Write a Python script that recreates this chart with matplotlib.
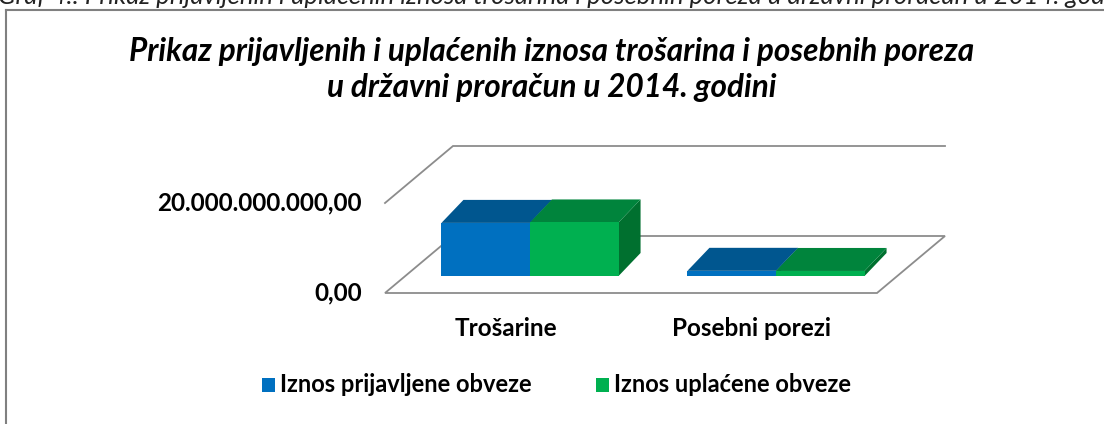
import matplotlib.pyplot as plt
from matplotlib.patches import Polygon
from matplotlib.lines import Line2D

# data
categories = ['Trošarine', 'Posebni porezi']
series_names = ['Iznos prijavljene obveze', 'Iznos uplaćene obveze']
prijavljene = [11.8e9, 1.15e9]
uplacene = [11.9e9, 1.12e9]
value_ticks = [0, 20e9]
tick_labels = ['0,00', '20.000.000.000,00']

front_colors = ['#0070C0', '#00B050']
top_colors = ['#00568F', '#00843C']
side_colors = ['#004A7A', '#00702F']
grid_color = '#8C8C8C'

plt.rcParams['font.family'] = ['Lato', 'DejaVu Sans']

W, H = 1104, 424
fig = plt.figure(figsize=(W / 100, H / 100), dpi=100)

# axes covering the whole figure: x in category units, y in value units
px_per_cat = 246.0
px_per_val = 4.5 / 1e9
x0_px, y0_px = 385.0, H - 293.0   # position of (-0.5, 0)
ax = fig.add_axes([0, 0, 1, 1])
ax.set_xlim(-0.5 - x0_px / px_per_cat, -0.5 + (W - x0_px) / px_per_cat)
ax.set_ylim(-y0_px / px_per_val, (H - y0_px) / px_per_val)
ax.axis('off')

# depth of the floor and of the bars
DX, DY = 68 / px_per_cat, 57 / px_per_val
off_x, off_y = 22 / px_per_cat, 17 / px_per_val
bdx, bdy = 22 / px_per_cat, 23 / px_per_val
bar_w = 0.36
n = len(categories)

# floor
floor = [(-0.5, 0), (n - 0.5, 0), (n - 0.5 + DX, DY), (-0.5 + DX, DY)]
ax.add_patch(Polygon(floor, closed=True, facecolor='white', edgecolor=grid_color, lw=1.3))

# gridlines on the side and back walls
for v in value_ticks:
    if v == 0:
        continue
    ax.plot([-0.5, -0.5 + DX, n - 0.5 + DX], [v, v + DY, v + DY],
            color=grid_color, lw=1.3, solid_joinstyle='miter')

# 3d-looking bars
for i in range(n):
    for j, vals in enumerate([prijavljene, uplacene]):
        v = vals[i]
        xl = i + (j - 1) * bar_w + off_x
        xr = xl + bar_w
        base = off_y
        top = base + v
        side = [(xr, base), (xr, top), (xr + bdx, top + bdy), (xr + bdx, base + bdy)]
        ax.add_patch(Polygon(side, closed=True, facecolor=side_colors[j], edgecolor='none'))
        topf = [(xl, top), (xr, top), (xr + bdx, top + bdy), (xl + bdx, top + bdy)]
        ax.add_patch(Polygon(topf, closed=True, facecolor=top_colors[j], edgecolor='none'))
        ax.bar(xl, v, bottom=base, width=bar_w, align='edge',
               color=front_colors[j], edgecolor='none')

# value axis labels
for v, lab in zip(value_ticks, tick_labels):
    ax.text(-0.5 - 23 / px_per_cat, v, lab, ha='right', va='center',
            fontsize=17.5, fontweight='bold', color='black')

# category labels
for i, c in enumerate(categories):
    ax.text(i - 0.01, -35 / px_per_val, c, ha='center', va='center',
            fontsize=17.5, fontweight='bold', color='black')

# title
fig.text(0.5, 1 - 52 / H, 'Prikaz prijavljenih i uplaćenih iznosa trošarina i posebnih poreza',
         ha='center', va='center', fontsize=22.7, fontweight='bold', style='italic')
fig.text(0.5, 1 - 88 / H, 'u državni proračun u 2014. godini',
         ha='center', va='center', fontsize=22.7, fontweight='bold', style='italic')

# caption cut off at the top edge
fig.text(-2 / W, 1 - 4 / H,
         'Graf 4.: Prikaz prijavljenih i uplaćenih iznosa trošarina i posebnih poreza u državni proračun u 2014. godini',
         ha='left', va='baseline', fontsize=18.5, style='italic', color='#222222')

# chart border
fig.add_artist(Line2D([6 / W, 6 / W], [0, 1 - 10 / H], transform=fig.transFigure, color='#808080', lw=1.5))
fig.add_artist(Line2D([6 / W, 1], [1 - 10 / H, 1 - 10 / H], transform=fig.transFigure, color='#808080', lw=1.5))

# legend
legend_items = [(262, series_names[0], front_colors[0]), (596, series_names[1], front_colors[1])]
for xpx, name, col in legend_items:
    fig.patches.append(plt.Rectangle((xpx / W, 1 - 392 / H), 13 / W, 14 / H,
                                     transform=fig.transFigure, facecolor=col, edgecolor='none'))
    fig.text((xpx + 18) / W, 1 - 385 / H, name, ha='left', va='center',
             fontsize=17, fontweight='bold')

fig.savefig('out.png', dpi=100)
